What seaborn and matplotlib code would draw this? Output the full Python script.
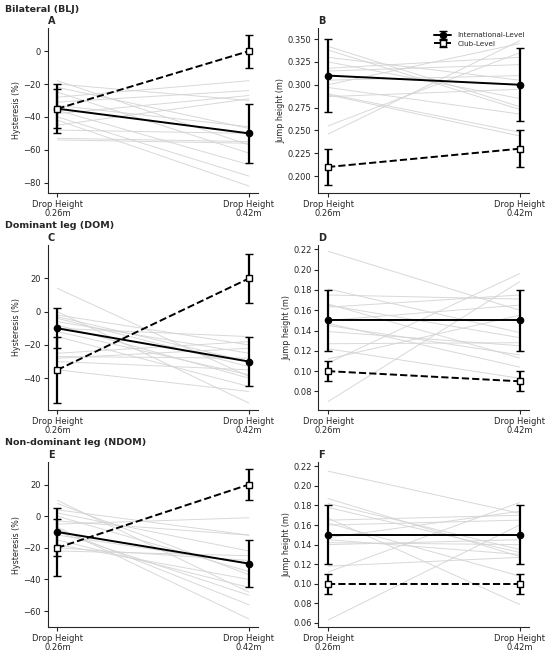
import matplotlib
matplotlib.use("Agg")
import matplotlib.pyplot as plt
import seaborn as sns
import pandas as pd

heights = ["Drop Height\n0.26m", "Drop Height\n0.42m"]
sections = ["Bilateral (BLJ)", "Dominant leg (DOM)", "Non-dominant leg (NDOM)"]
letters = ["A", "B", "C", "D", "E", "F"]

# individual subjects (start value, end value)
hys_blj_0 = [-18, -20, -22, -25, -28, -31, -38, -40, -42, -45, -48, -53, -54, -36, -33]
hys_blj_1 = [-57, -30, -47, -62, -18, -24, -27, -76, -82, -29, -50, -55, -56, -69, -46]
jh_blj_0 = [0.246, 0.255, 0.342, 0.338, 0.318, 0.315, 0.305, 0.300, 0.297, 0.290, 0.289, 0.330, 0.287, 0.325, 0.310]
jh_blj_1 = [0.348, 0.335, 0.276, 0.273, 0.330, 0.322, 0.310, 0.345, 0.268, 0.248, 0.244, 0.305, 0.295, 0.285, 0.300]
hys_dom_0 = [14, 0, -2, -4, -6, -8, -10, -12, -25, -27, -28, -30, -35, -3, -15]
hys_dom_1 = [-39, -55, -20, -33, -25, -40, -15, -38, -18, -28, -22, -35, -48, -30, -45]
jh_dom_0 = [0.218, 0.070, 0.108, 0.112, 0.181, 0.175, 0.166, 0.165, 0.163, 0.150, 0.147, 0.145, 0.139, 0.127, 0.122]
jh_dom_1 = [0.160, 0.188, 0.196, 0.155, 0.138, 0.171, 0.113, 0.133, 0.175, 0.165, 0.104, 0.116, 0.125, 0.128, 0.093]
hys_ndom_0 = [10, 8, 4, 2, -5, -7, -8, -10, -12, -15, -18, -20, -22, -3, 0]
hys_ndom_1 = [-48, -37, -12, -22, -1, -65, -56, -50, -30, -45, -40, -28, -25, -12, -35]
jh_ndom_0 = [0.215, 0.063, 0.112, 0.118, 0.187, 0.182, 0.167, 0.165, 0.162, 0.147, 0.142, 0.140, 0.145, 0.160, 0.178]
jh_ndom_1 = [0.172, 0.160, 0.183, 0.127, 0.128, 0.135, 0.079, 0.170, 0.108, 0.174, 0.140, 0.145, 0.130, 0.165, 0.132]

# group means and SD: [0.26m, 0.42m]
int_mean = [[-35, -50], [0.31, 0.30], [-10, -30], [0.15, 0.15], [-10, -30], [0.15, 0.15]]
int_sd = [[15, 18], [0.04, 0.04], [12, 15], [0.03, 0.03], [15, 15], [0.03, 0.03]]
club_mean = [[-35, 0], [0.21, 0.23], [-35, 20], [0.10, 0.09], [-20, 20], [0.10, 0.10]]
club_sd = [[12, 10], [0.02, 0.02], [20, 15], [0.01, 0.01], [18, 10], [0.01, 0.01]]

subjects = [(hys_blj_0, hys_blj_1), (jh_blj_0, jh_blj_1), (hys_dom_0, hys_dom_1),
            (jh_dom_0, jh_dom_1), (hys_ndom_0, hys_ndom_1), (jh_ndom_0, jh_ndom_1)]
ylabels = ["Hysteresis (%)", "Jump height (m)"] * 3
ylims = [(-86, 14), (0.182, 0.362), (-59, 40), (0.062, 0.224), (-70, 34), (0.056, 0.224)]
yticks = [[-80, -60, -40, -20, 0],
          [0.200, 0.225, 0.250, 0.275, 0.300, 0.325, 0.350],
          [-40, -20, 0, 20],
          [0.08, 0.10, 0.12, 0.14, 0.16, 0.18, 0.20, 0.22],
          [-60, -40, -20, 0, 20],
          [0.06, 0.08, 0.10, 0.12, 0.14, 0.16, 0.18, 0.20, 0.22]]
yfmt = ["{:.0f}", "{:.3f}", "{:.0f}", "{:.2f}", "{:.0f}", "{:.2f}"]

sns.set_style("ticks")
plt.rcParams['font.family'] = ['DejaVu Sans']

fig, axes = plt.subplots(3, 2, figsize=(5.5, 6.53), dpi=100)
fig.subplots_adjust(left=0.087, right=0.962, top=0.957, bottom=0.040,
                    hspace=0.32, wspace=0.285)

for i, ax in enumerate(axes.flat):
    start, end = subjects[i]
    df = pd.DataFrame({
        "subject": list(range(len(start))) * 2,
        "x": [0] * len(start) + [1] * len(end),
        "value": list(start) + list(end),
    })
    sns.lineplot(data=df, x="x", y="value", units="subject", estimator=None,
                 color="#d4d4d4", linewidth=0.7, alpha=0.9, ax=ax, legend=False)

    ax.errorbar([0, 1], int_mean[i], yerr=int_sd[i], color="black", linestyle="-",
                marker="o", markersize=4.5, linewidth=1.4, elinewidth=1.6,
                capsize=3, capthick=1.0, label="International-Level", zorder=3)
    ax.errorbar([0, 1], club_mean[i], yerr=club_sd[i], color="black", linestyle="--",
                marker="s", markersize=4.5, markerfacecolor="white", linewidth=1.4,
                elinewidth=1.6, capsize=3, capthick=1.0, label="Club-Level", zorder=3)

    ax.set_xlim(-0.05, 1.05)
    ax.set_xticks([0, 1])
    ax.set_xticklabels(heights, fontsize=6, linespacing=1.0)
    ax.set_xlabel("")
    ax.set_ylim(*ylims[i])
    ax.set_yticks(yticks[i])
    ax.set_yticklabels([yfmt[i].format(v).replace("-", "\u2212") for v in yticks[i]], fontsize=6)
    ax.set_ylabel(ylabels[i], fontsize=5.8, labelpad=1.5)
    ax.tick_params(length=3, width=0.8, pad=2)
    ax.set_title(letters[i], loc="left", fontsize=7, fontweight="bold", pad=3, x=0.0)
    sns.despine(ax=ax)

    if i == 1:
        ax.legend(loc="upper right", frameon=False, fontsize=5.2,
                  handlelength=2.4, borderaxespad=0.2, labelspacing=0.3,
                  bbox_to_anchor=(1.0, 1.0))

for j, name in enumerate(sections):
    fig.text(0.009, [0.986, 0.654, 0.322][j], name, fontsize=6.8,
             fontweight="bold", va="center", ha="left")

fig.savefig("out.png", dpi=100)
